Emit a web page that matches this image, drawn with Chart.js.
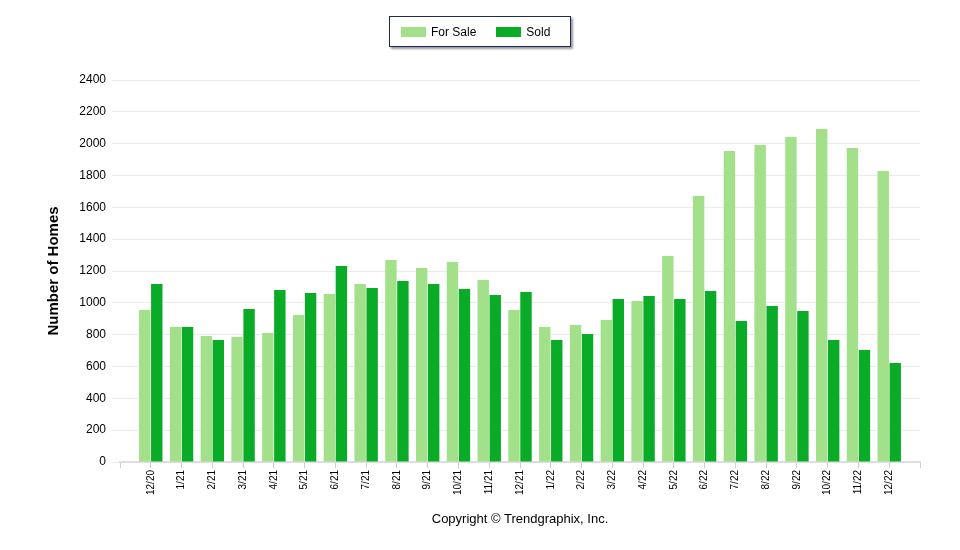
<!DOCTYPE html>
<html>
<head>
<meta charset="utf-8">
<script src="https://cdn.jsdelivr.net/npm/chart.js@4"></script>
<style>
  html, body { margin: 0; padding: 0; background: #fff; }
  #wrap { position: relative; width: 960px; height: 550px; }
  #legend {
    position: absolute; left: 389px; top: 16px; width: 182px; height: 31px;
    border: 1px solid #1f2a5c; box-shadow: 2px 2px 2px #9a9a9a; background: #fff;
    font: 12px "Liberation Sans", Arial, sans-serif; color: #000; white-space: nowrap;
    display: flex; align-items: center; box-sizing: border-box; padding-left: 11px;
  }
  .sw { display: inline-block; width: 25px; height: 10px; margin-right: 5px; }
  .item { display: flex; align-items: center; margin-right: 20px; }
  #copy {
    position: absolute; left: 40px; width: 960px; top: 511px; text-align: center;
    font: 13px "Liberation Sans", Arial, sans-serif; color: #000;
  }
</style>
</head>
<body>
<div id="wrap">
  <canvas id="chart" width="960" height="550"></canvas>
  <div id="legend">
    <span class="item"><span class="sw" style="background:#a2e08a"></span>For Sale</span>
    <span class="item"><span class="sw" style="background:#0aab26"></span>Sold</span>
  </div>
  <div id="copy">Copyright © Trendgraphix, Inc.</div>
</div>
<script>
// Mois affichés sur l'axe X
const months = ['12/20', '1/21', '2/21', '3/21', '4/21', '5/21', '6/21', '7/21', '8/21',
    '9/21', '10/21', '11/21', '12/21', '1/22', '2/22', '3/22', '4/22', '5/22',
    '6/22', '7/22', '8/22', '9/22', '10/22', '11/22', '12/22'];

// Valeurs
const forSale = [955, 848, 792, 785, 810, 924, 1056, 1118, 1269, 1219, 1257, 1144, 955,
    848, 861, 892, 1012, 1294, 1671, 1954, 1992, 2042, 2092, 1973, 1828];
const sold = [1118, 848, 767, 961, 1081, 1062, 1231, 1093, 1137, 1118, 1087, 1049, 1068,
    767, 804, 1024, 1043, 1024, 1074, 886, 980, 949, 767, 704, 622];

const yTicks = [0, 200, 400, 600, 800, 1000, 1200, 1400, 1600, 1800, 2000, 2200, 2400];

// Une case vide de chaque côté pour laisser la marge de l'axe
const labels = [''].concat(months, ['']);
const pad = arr => [null].concat(arr, [null]);

const ctx = document.getElementById('chart').getContext('2d');
const chart = new Chart(ctx, {
    type: 'bar',
    data: {
        labels: labels,
        datasets: [{
            label: 'For Sale',
            data: pad(forSale),
            backgroundColor: '#a2e08a',
            categoryPercentage: 0.78,
            barPercentage: 0.95
        }, {
            label: 'Sold',
            data: pad(sold),
            backgroundColor: '#0aab26',
            categoryPercentage: 0.78,
            barPercentage: 0.95
        }]
    },
    options: {
        responsive: false,
        animation: false,
        layout: { padding: { top: 80, right: 40, left: 45, bottom: 0 } },
        plugins: {
            legend: { display: false },
            tooltip: { enabled: false }
        },
        scales: {
            x: {
                offset: false,
                grid: { offset: false, drawOnChartArea: false, drawTicks: true, tickLength: 6, color: '#cccccc', lineWidth: 1 },
                border: { color: '#dedede', width: 2 },
                ticks: {
                    autoSkip: false, maxRotation: 90, minRotation: 90,
                    font: { family: 'Liberation Sans', size: 10 }, color: '#000', padding: 2
                },
                afterFit: scale => {
                    scale.height = 88;
                    scale.paddingLeft = 0;
                    scale.paddingRight = 0;
                }
            },
            y: {
                min: 0, max: 2400,
                afterBuildTicks: scale => { scale.ticks = yTicks.map(v => ({ value: v })); },
                grid: { color: '#ebebeb', tickLength: 8 },
                border: { display: false },
                ticks: {
                    font: { family: 'Liberation Sans', size: 12 }, color: '#000', padding: 6,
                    callback: v => String(v)
                },
                title: {
                    display: true, text: 'Number of Homes', color: '#000',
                    font: { family: 'Liberation Sans', size: 15, weight: 'bold' }, padding: { top: 0, bottom: 8 }
                },
                afterFit: scale => { scale.width = 75; }
            }
        }
    }
});
</script>
</body>
</html>
